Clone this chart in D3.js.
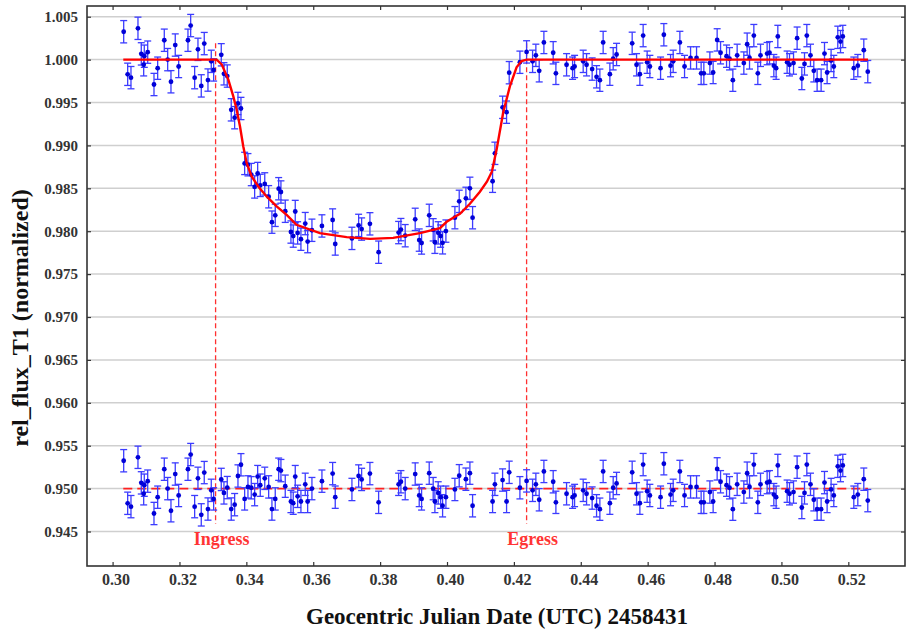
<!DOCTYPE html>
<html>
<head>
<meta charset="utf-8">
<script src="https://cdn.jsdelivr.net/npm/d3@7/dist/d3.min.js"></script>
<style>
  body { margin: 0; background: #fff; }
  svg { display: block; }
  .tick-label { font-family: "Liberation Serif", "Times New Roman", serif; font-weight: bold; fill: #333; }
</style>
</head>
<body>
<svg id="chart" width="906" height="632"></svg>
<script>
// ---- data ----
// observation times (days, GJD - 2458431)
var obsTime = [
  0.30332, 0.30451, 0.30550, 0.30759, 0.30858, 0.30930, 0.30948, 0.31050, 0.31238, 0.31348,
  0.31546, 0.31647, 0.31746, 0.31874, 0.31976, 0.32254, 0.32335, 0.32454, 0.32553, 0.32652,
  0.32741, 0.32852, 0.32951, 0.33022, 0.33250, 0.33330, 0.33429, 0.33548, 0.33650, 0.33749,
  0.33839, 0.33949, 0.34048, 0.34147, 0.34248, 0.34338, 0.34416, 0.34550, 0.34667, 0.34765,
  0.34864, 0.34966, 0.35034, 0.35163, 0.35333, 0.35402, 0.35462, 0.35533, 0.35632, 0.35761,
  0.35833, 0.35961, 0.36260, 0.36580, 0.36658, 0.37157, 0.37357, 0.37447, 0.37695, 0.37955,
  0.38553, 0.38622, 0.38750, 0.39049, 0.39169, 0.39240, 0.39468, 0.39587, 0.39638, 0.39737,
  0.39809, 0.39868, 0.39967, 0.40236, 0.40365, 0.40565, 0.40685, 0.40765, 0.41363, 0.41432,
  0.41662, 0.41781, 0.41860, 0.42180, 0.42380, 0.42559, 0.42657, 0.42757, 0.42897, 0.43175,
  0.43256, 0.43575, 0.43755, 0.43815, 0.44072, 0.44173, 0.44340, 0.44472, 0.44571, 0.44669,
  0.44870, 0.44969, 0.45070, 0.45537, 0.45668, 0.45767, 0.45865, 0.45985, 0.46066, 0.46386,
  0.46484, 0.46685, 0.46763, 0.46963, 0.47103, 0.47283, 0.47462, 0.47599, 0.47680, 0.47860,
  0.47958, 0.48078, 0.48180, 0.48359, 0.48448, 0.48547, 0.48676, 0.48876, 0.48975, 0.49046,
  0.49175, 0.49294, 0.49375, 0.49572, 0.49644, 0.49773, 0.49842, 0.49892, 0.50170, 0.50242,
  0.50362, 0.50469, 0.50610, 0.50690, 0.50759, 0.50869, 0.50968, 0.51067, 0.51187, 0.51288,
  0.51366, 0.51485, 0.51566, 0.51685, 0.51767, 0.51835, 0.52164, 0.52284, 0.52463, 0.52582
];
// residuals of the fit (flux - model)
var residual = [
  0.00325, -0.00171, -0.00210, 0.00365, 0.00067, -0.00060, 0.00040, 0.00087, -0.00290, -0.00100,
  0.00226, 0.00000, -0.00258, 0.00170, -0.00080, 0.00226, 0.00397, -0.00210, 0.00120, -0.00306,
  0.00187, -0.00238, -0.00020, -0.00120, 0.00107, -0.00050, 0.00012, -0.00238, -0.00187, 0.00147,
  0.00278, -0.00120, 0.00020, 0.00010, -0.00070, 0.00140, 0.00040, 0.00120, 0.00020, -0.00238,
  -0.00120, 0.00226, 0.00210, 0.00028, -0.00150, -0.00170, 0.00140, -0.00090, -0.00150, 0.00050,
  -0.00150, 0.00000, 0.00087, 0.00175, -0.00100, -0.00010, 0.00147, 0.00107, 0.00175, -0.00160,
  0.00050, 0.00080, 0.00000, 0.00170, -0.00080, -0.00120, 0.00180, 0.00000, -0.00150, -0.00050,
  -0.00100, -0.00200, -0.00100, -0.00010, 0.00150, 0.00110, 0.00180, -0.00200, -0.00150, 0.00050,
  0.00100, -0.00150, 0.00190, 0.00010, 0.00090, -0.00020, 0.00050, -0.00130, 0.00200, 0.00080,
  -0.00160, -0.00060, -0.00100, -0.00080, -0.00020, -0.00060, -0.00110, -0.00200, -0.00240, 0.00200,
  -0.00170, 0.00010, 0.00060, 0.00190, -0.00060, -0.00170, 0.00280, -0.00030, -0.00080, -0.00100,
  0.00290, -0.00070, -0.00020, 0.00200, -0.00080, 0.00020, 0.00020, -0.00160, -0.00160, -0.00040,
  -0.00150, 0.00230, 0.00080, 0.00040, 0.00010, -0.00240, 0.00050, -0.00040, 0.00180, 0.00020,
  0.00280, -0.00160, 0.00050, 0.00070, 0.00080, -0.00070, -0.00100, 0.00270, -0.00030, -0.00060,
  -0.00040, 0.00250, -0.00220, -0.00050, 0.00280, 0.00050, -0.00130, -0.00240, -0.00240, 0.00070,
  -0.00150, -0.00010, -0.00080, 0.00260, 0.00210, 0.00270, -0.00100, -0.00070, 0.00110, -0.00140
];
var errHalf = 0.0013;

// transit model curve
var modelTime = [0.3032, 0.3306, 0.33112, 0.33262, 0.33459, 0.33608, 0.3371, 0.33809, 0.33907, 0.34009,
  0.34158, 0.34356, 0.34607, 0.34906, 0.35205, 0.3550, 0.3620, 0.3700, 0.3770, 0.3839,
  0.3919, 0.3979, 0.3999, 0.40386, 0.40685, 0.40984, 0.41193, 0.41342, 0.41483, 0.4168,
  0.4188, 0.4208, 0.4223, 0.4238, 0.5259];
var modelFlux = [1.0000, 1.0000, 1.0000, 0.99945, 0.99770, 0.99574, 0.99419, 0.99224, 0.98990, 0.98796,
  0.98639, 0.98522, 0.98405, 0.98289, 0.98191, 0.98075, 0.97978, 0.97931, 0.97911, 0.97923,
  0.97978, 0.98036, 0.98110, 0.98203, 0.98320, 0.98460, 0.98577, 0.98694, 0.98951, 0.99384,
  0.99688, 0.99910, 0.99984, 1.0000, 1.0000];

var residOffset = 0.950;
var ingressTime = 0.3308, egressTime = 0.4238;
var markerTop = 1.0019, markerBottom = 0.9459;
var markerLabels = ["Ingress", "Egress"];

var xTicks = [0.30, 0.32, 0.34, 0.36, 0.38, 0.40, 0.42, 0.44, 0.46, 0.48, 0.50, 0.52];
var yTicks = [0.945, 0.950, 0.955, 0.960, 0.965, 0.970, 0.975, 0.980, 0.985, 0.990, 0.995, 1.000, 1.005];
var xTitle = "Geocentric Julian Date (UTC) 2458431";
var yTitle = "rel_flux_T1 (normalized)";

// ---- layout ----
var svg = d3.select("#chart");
var plotL = 87, plotR = 905, plotT = 6, plotB = 566;

var x = d3.scaleLinear().domain([0.29235, 0.53695]).range([plotL, plotR]);
var y = d3.scaleLinear().domain([0.94098, 1.00625]).range([plotB, plotT]);
var modelAt = d3.scaleLinear().domain(modelTime).range(modelFlux);

var points = obsTime.map(function(t, i) {
  return { t: t, flux: modelAt(t) + residual[i], res: residOffset + residual[i] };
});

// grid
svg.append("g").selectAll("line")
  .data(yTicks).enter().append("line")
  .attr("x1", plotL).attr("x2", plotR)
  .attr("y1", function(d) { return y(d); }).attr("y2", function(d) { return y(d); })
  .attr("stroke", "#cfcfcf").attr("stroke-width", 1.5);

// axes (inward ticks)
var axisStyle = function(g) {
  g.select(".domain").remove();
  g.selectAll(".tick line").attr("stroke", "#333").attr("stroke-width", 1.2);
  g.selectAll(".tick text").attr("class", "tick-label");
};
svg.append("g").attr("transform", "translate(0," + plotB + ")")
  .call(d3.axisBottom(x).tickValues(xTicks).tickSizeInner(-4).tickSizeOuter(0).tickPadding(8).tickFormat(d3.format(".2f")))
  .call(axisStyle)
  .selectAll("text").attr("font-size", 16).attr("dx", 3);
svg.append("g").attr("transform", "translate(0," + plotT + ")")
  .call(d3.axisTop(x).tickValues(xTicks).tickSizeInner(-4).tickSizeOuter(0).tickFormat(""))
  .call(axisStyle);
svg.append("g").attr("transform", "translate(" + plotL + ",0)")
  .call(d3.axisLeft(y).tickValues(yTicks).tickSizeInner(-4).tickSizeOuter(0).tickPadding(9).tickFormat(d3.format(".3f")))
  .call(axisStyle)
  .selectAll("text").attr("font-size", 15);
svg.append("g").attr("transform", "translate(" + plotR + ",0)")
  .call(d3.axisRight(y).tickValues(yTicks).tickSizeInner(-4).tickSizeOuter(0).tickFormat(""))
  .call(axisStyle);

// frame
svg.append("rect")
  .attr("x", plotL).attr("y", plotT).attr("width", plotR - plotL).attr("height", plotB - plotT)
  .attr("fill", "none").attr("stroke", "#333").attr("stroke-width", 1.6);

// ingress / egress markers
[ingressTime, egressTime].forEach(function(t, i) {
  svg.append("line")
    .attr("x1", x(t)).attr("x2", x(t))
    .attr("y1", y(markerTop)).attr("y2", y(markerBottom))
    .attr("stroke", "#ff3030").attr("stroke-width", 1.3).attr("stroke-dasharray", "5,3");
  svg.append("text")
    .attr("x", x(t) + 6).attr("y", y(0.9434))
    .attr("text-anchor", "middle")
    .attr("font-family", "Liberation Serif, serif").attr("font-weight", "bold").attr("font-size", 18)
    .attr("fill", "#ff3434")
    .text(markerLabels[i]);
});

// residual baseline
svg.append("line")
  .attr("x1", x(modelTime[0])).attr("x2", x(modelTime[modelTime.length - 1]))
  .attr("y1", y(residOffset)).attr("y2", y(residOffset))
  .attr("stroke", "#ff2020").attr("stroke-width", 1.6).attr("stroke-dasharray", "9,5");

// error bars + points
function drawSeries(key) {
  var g = svg.append("g");
  var eb = g.selectAll("g.eb").data(points).enter().append("g").attr("class", "eb")
    .attr("stroke", "#3c3cff").attr("stroke-width", 1.3);
  eb.append("line")
    .attr("x1", function(d) { return x(d.t); }).attr("x2", function(d) { return x(d.t); })
    .attr("y1", function(d) { return y(d[key] + errHalf); })
    .attr("y2", function(d) { return y(d[key] - errHalf); });
  eb.append("line")
    .attr("x1", function(d) { return x(d.t) - 3.5; }).attr("x2", function(d) { return x(d.t) + 3.5; })
    .attr("y1", function(d) { return y(d[key] + errHalf); })
    .attr("y2", function(d) { return y(d[key] + errHalf); });
  eb.append("line")
    .attr("x1", function(d) { return x(d.t) - 3.5; }).attr("x2", function(d) { return x(d.t) + 3.5; })
    .attr("y1", function(d) { return y(d[key] - errHalf); })
    .attr("y2", function(d) { return y(d[key] - errHalf); });
  g.selectAll("circle").data(points).enter().append("circle")
    .attr("cx", function(d) { return x(d.t); })
    .attr("cy", function(d) { return y(d[key]); })
    .attr("r", 2.4)
    .attr("fill", "#0000d8");
}
drawSeries("res");
drawSeries("flux");

// model line
svg.append("path")
  .datum(modelTime.map(function(t, i) { return [t, modelFlux[i]]; }))
  .attr("fill", "none").attr("stroke", "#ff0000").attr("stroke-width", 2.4)
  .attr("d", d3.line().x(function(d) { return x(d[0]); }).y(function(d) { return y(d[1]); }));

// titles
svg.append("text")
  .attr("x", 497).attr("y", 624)
  .attr("text-anchor", "middle")
  .attr("font-family", "Liberation Serif, serif").attr("font-weight", "bold").attr("font-size", 23)
  .attr("fill", "#111")
  .text(xTitle);
svg.append("text")
  .attr("transform", "translate(28,318) rotate(-90)")
  .attr("text-anchor", "middle")
  .attr("font-family", "Liberation Serif, serif").attr("font-weight", "bold").attr("font-size", 24)
  .attr("fill", "#111")
  .text(yTitle);
</script>
</body>
</html>
